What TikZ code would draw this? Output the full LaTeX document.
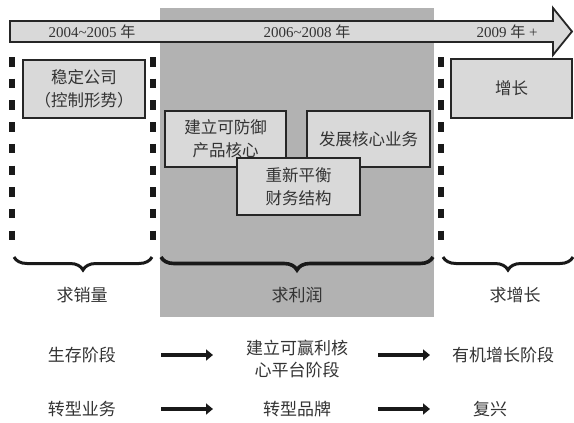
\documentclass[tikz,border=0pt]{standalone}
\usepackage{fontspec}
\setmainfont{Liberation Serif}
\newfontfamily\cjk{Noto Sans CJK SC}
\usepackage{tikz}
\usetikzlibrary{positioning, calc, arrows.meta, decorations.pathreplacing}
\definecolor{boxgray}{gray}{0.85}
\definecolor{bandgray}{gray}{0.70}
\definecolor{inkgray}{gray}{0.2}

\begin{document}
\begin{tikzpicture}[x=1pt, y=-1pt,
    stagebox/.style={draw=black!85, line width=1.8pt, fill=boxgray, text=inkgray,
        align=center, inner sep=0pt, font=\cjk\fontsize{16.5}{23}\selectfont},
    phase/.style={text=inkgray, align=center, font=\cjk\fontsize{17}{22}\selectfont},
    yearlbl/.style={text=inkgray, font=\fontsize{15}{17}\selectfont},
    flow/.style={black!90, line width=3.5pt, -{Triangle[length=7pt, width=11pt]}},
    divider/.style={black!90, line width=6pt, dash pattern=on 9.5pt off 12.2pt},
    bracket/.style={black!90, line width=3pt, decorate,
        decoration={brace, mirror, amplitude=13pt}}]

    \useasboundingbox (0,0) rectangle (574,423);

    % --- Profit band ---
    \fill[bandgray] (160,8) rectangle (434,317);

    % --- Time arrow ---
    \draw[line width=1.8pt, draw=black!85, fill=boxgray]
        (10,21) -- (553,21) -- (553,8) -- (572,31.5) -- (553,55) -- (553,42) -- (10,42) -- cycle;
    \node[yearlbl] (y1) at (92,32)  {2004\textasciitilde 2005 {\cjk 年}};
    \node[yearlbl] (y2) at (307,32) {2006\textasciitilde 2008 {\cjk 年}};
    \node[yearlbl] (y3) at (507,32) {2009 {\cjk 年} +};

    % --- Period dividers ---
    \draw[divider] (12,57) -- (12,241);
    \draw[divider] (153,57) -- (153,241);
    \draw[divider] (441,57) -- (441,241);

    % --- Stage boxes ---
    \node[stagebox, minimum width=122pt, minimum height=58pt] (stab) at (84,89) {稳定公司\\（控制形势）};
    \node[stagebox, minimum width=121pt, minimum height=59pt] (grow) at (511.5,88.5) {增长};
    \node[stagebox, minimum width=121pt, minimum height=56pt] (defend) at (225.5,139) {建立可防御\\产品核心};
    \node[stagebox, minimum width=123pt, minimum height=56pt] (core) at (368.5,139) {发展核心业务};
    \node[stagebox, minimum width=123pt, minimum height=57pt] (fin) at (298.5,186.5) {重新平衡\\财务结构};

    % --- Braces ---
    \coordinate (b1l) at (14,257);
    \coordinate (b1r) at (152,257);
    \coordinate (b2l) at (161,257);
    \coordinate (b2r) at (433,257);
    \coordinate (b3l) at (443,257);
    \coordinate (b3r) at (573,257);
    \draw[bracket] (b1l) -- (b1r);
    \draw[bracket, line width=3.6pt] (b2l) -- (b2r);
    \draw[bracket] (b3l) -- (b3r);

    \node[phase] (sales)  at (82,295)  {求销量};
    \node[phase] (profit) at (297,295) {求利润};
    \node[phase] (growth) at (515,295) {求增长};

    % --- Phase rows ---
    \node[phase] (s1) at (82,355)  {生存阶段};
    \node[phase] (m1) at (297,359) {建立可赢利核\\心平台阶段};
    \node[phase] (e1) at (503,355) {有机增长阶段};
    \node[phase] (s2) at (82,409)  {转型业务};
    \node[phase] (m2) at (297,409) {转型品牌};
    \node[phase] (e2) at (490,409) {复兴};

    \coordinate (f1a) at (161,355);
    \coordinate (f1b) at (213,355);
    \coordinate (f2a) at (378,355);
    \coordinate (f2b) at (430,355);
    \coordinate (f3a) at (161,409);
    \coordinate (f3b) at (213,409);
    \coordinate (f4a) at (378,409);
    \coordinate (f4b) at (430,409);
    \draw[flow] (f1a) -- (f1b);
    \draw[flow] (f2a) -- (f2b);
    \draw[flow] (f3a) -- (f3b);
    \draw[flow] (f4a) -- (f4b);

\end{tikzpicture}
\end{document}
